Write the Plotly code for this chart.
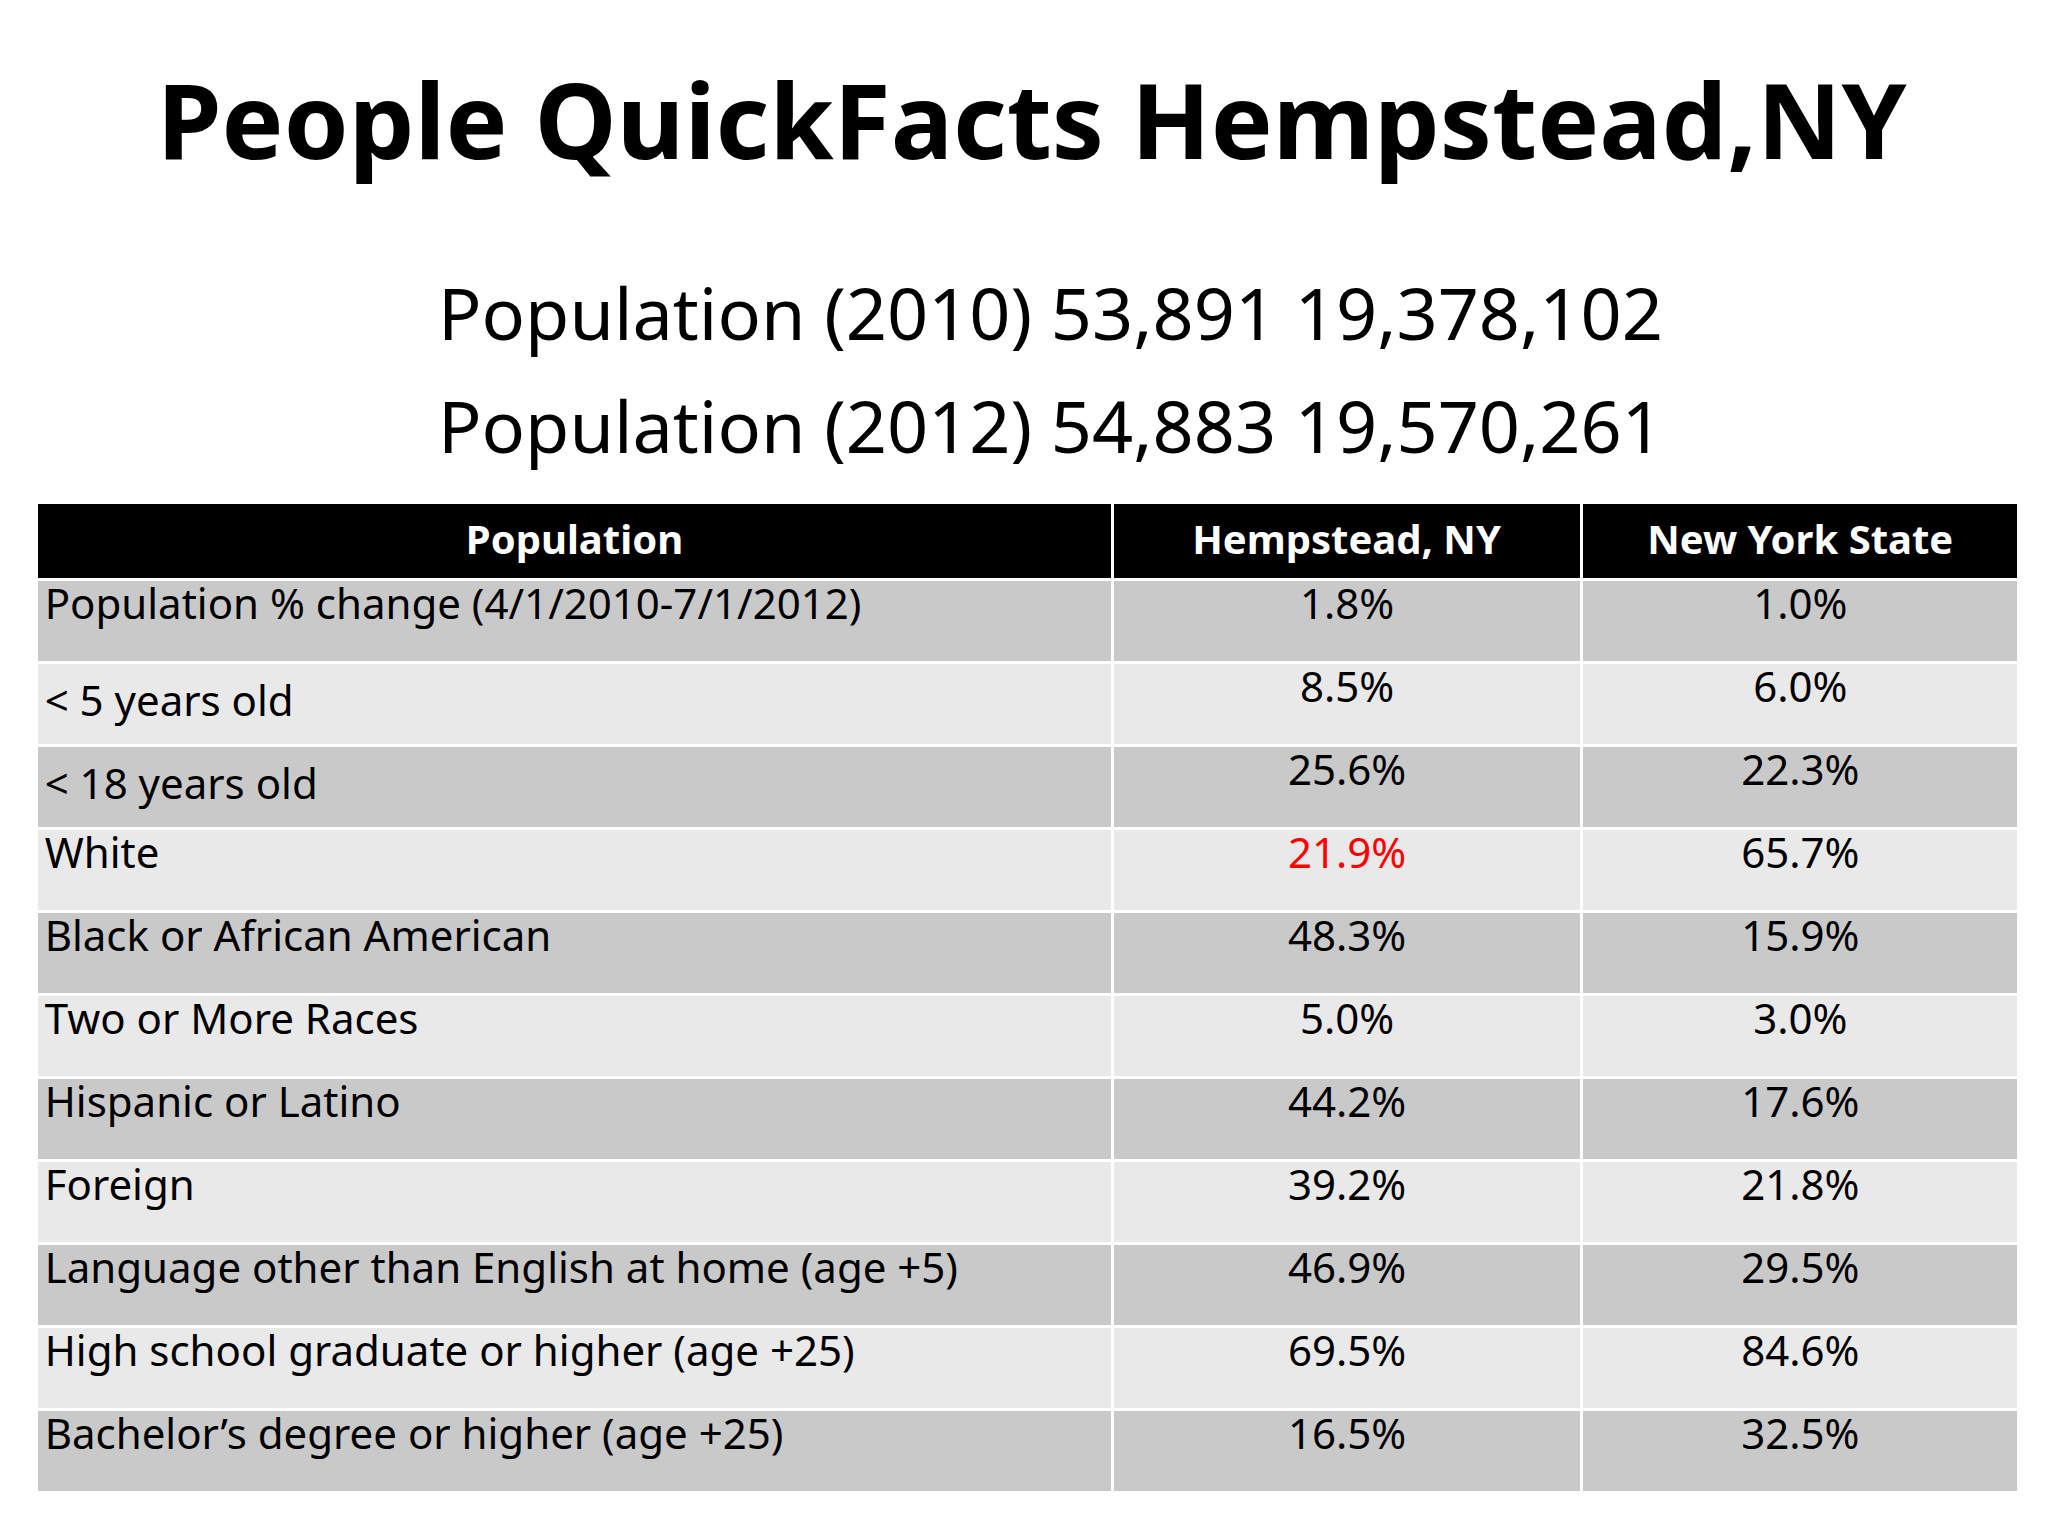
import plotly.graph_objects as go

title = "People QuickFacts Hempstead,NY"
pop_lines = ["Population (2010) 53,891 19,378,102",
             "Population (2012) 54,883 19,570,261"]

headers = ["Population", "Hempstead, NY", "New York State"]
categories = [
    "Population % change (4/1/2010-7/1/2012)",
    "< 5 years old",
    "< 18 years old",
    "White",
    "Black or African American",
    "Two or More Races",
    "Hispanic or Latino",
    "Foreign",
    "Language other than English at home (age +5)",
    "High school graduate or higher (age +25)",
    "Bachelor\u2019s degree or higher (age +25)",
]
hempstead = ["1.8%", "8.5%", "25.6%", "21.9%", "48.3%", "5.0%",
             "44.2%", "39.2%", "46.9%", "69.5%", "16.5%"]
nys = ["1.0%", "6.0%", "22.3%", "65.7%", "15.9%", "3.0%",
       "17.6%", "21.8%", "29.5%", "84.6%", "32.5%"]
highlight = "White"

row_fill = ["#c9c9c9" if i % 2 == 0 else "#e9e9e9" for i in range(len(categories))]
hemp_colors = ["#ff0000" if c == highlight else "black" for c in categories]
font = "Noto Sans"

fig = go.Figure(go.Table(
    domain=dict(x=[0.014, 0.982], y=[0.0, 0.678]),
    columnwidth=[820, 358, 333],
    header=dict(
        values=["<b>%s</b>" % h for h in headers],
        fill_color="black",
        line=dict(color="white", width=3),
        align="center",
        height=77,
        font=dict(family=font, size=40, color="white"),
    ),
    cells=dict(
        values=[categories, hempstead, nys],
        fill_color=[row_fill, row_fill, row_fill],
        line=dict(color="white", width=3),
        align=["left", "center", "center"],
        height=83,
        font=dict(family=font, size=42,
                  color=[["black"] * len(categories), hemp_colors, ["black"] * len(categories)]),
    ),
))

fig.add_annotation(text="<b>%s</b>" % title, x=0.5, y=0.975, xref="paper", yref="paper",
                   showarrow=False, font=dict(family=font, size=104, color="black"))
for line, y in zip(pop_lines, [0.835, 0.762]):
    fig.add_annotation(text=line, x=0.509, y=y, xref="paper", yref="paper",
                       showarrow=False, font=dict(family=font, size=72, color="black"))

fig.update_layout(width=2048, height=1536, margin=dict(l=0, r=0, t=0, b=0),
                  paper_bgcolor="white", plot_bgcolor="white")
fig.write_html("out.html")
